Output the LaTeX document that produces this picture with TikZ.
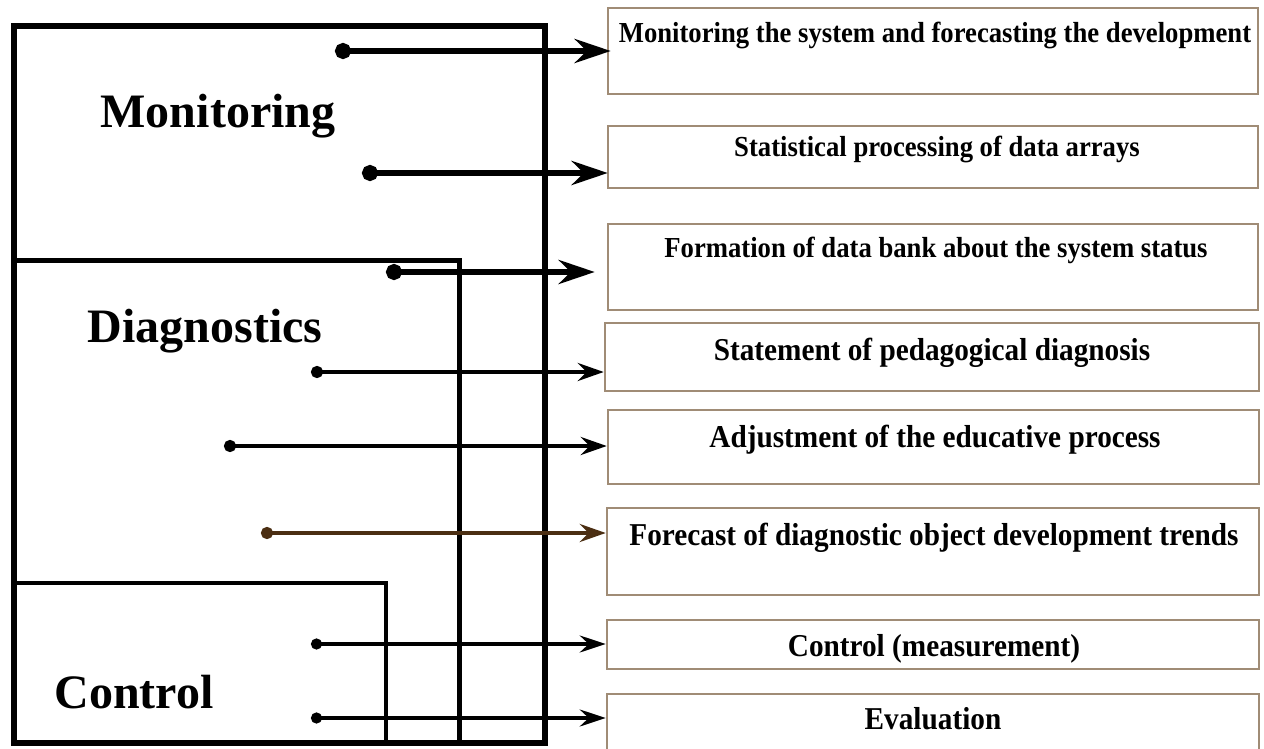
\documentclass[tikz,border=0pt]{standalone}
\usepackage{fontspec}
\setmainfont{Liberation Serif}
\newfontfamily\condfont[FakeStretch=0.92]{Liberation Serif}
\usetikzlibrary{arrows.meta}
\definecolor{boxline}{RGB}{160,140,118}
\definecolor{brownarrow}{RGB}{75,46,18}
\tikzset{
  frame/.style={line width=6pt, line join=miter},
  inner1/.style={line width=5pt},
  inner2/.style={line width=4pt},
  bigtitle/.style={font=\fontsize{48}{56}\selectfont\bfseries, inner sep=0pt, anchor=base},
  itembox/.style={draw=boxline, line width=2.5pt, inner sep=0pt, rectangle},
  itemtext/.style={font=\condfont\fontsize{29}{34}\selectfont\bfseries, inner sep=0pt, anchor=base},
  itemtextL/.style={font=\condfont\fontsize{31.8}{36}\selectfont\bfseries, inner sep=0pt, anchor=base},
  arrA/.style={line width=6pt, {Circle[length=16pt]}-{Stealth[length=36pt,width=24pt,inset=12pt]}},
  arrB/.style={line width=4.5pt, {Circle[length=12pt]}-{Stealth[length=26pt,width=18pt,inset=9pt]}},
  arrC/.style={line width=3.5pt, {Circle[length=11pt]}-{Stealth[length=26pt,width=17pt,inset=9pt]}},
}
\begin{document}
\begin{tikzpicture}[x=1pt,y=-1pt]
\useasboundingbox (0,0) rectangle (1264,749);
\clip (0,0) rectangle (1264,749);
% left structure
\draw[frame] (14,26) rectangle (545,743);
\draw[inner1] (14,260) -- (459,260) -- (459,743);
\draw[inner2] (14,583) -- (386,583) -- (386,743);
\node[bigtitle] (tmon) at (218,128) {Monitoring};
\node[bigtitle] (tdia) at (205,342) {Diagnostics};
\node[bigtitle] (tcon) at (134,708) {Control};
% right boxes
\node[itembox, minimum width=650pt, minimum height=86pt] (b1) at (933,51) {};
\node[itembox, minimum width=650pt, minimum height=62pt] (b2) at (933,157) {};
\node[itembox, minimum width=650pt, minimum height=86pt] (b3) at (933,267) {};
\node[itembox, minimum width=654pt, minimum height=68pt] (b4) at (932,357) {};
\node[itembox, minimum width=651pt, minimum height=74pt] (b5) at (933.5,447) {};
\node[itembox, minimum width=652pt, minimum height=87pt] (b6) at (933,551.5) {};
\node[itembox, minimum width=652pt, minimum height=49pt] (b7) at (933,644.5) {};
\node[itembox, minimum width=652pt, minimum height=66pt] (b8) at (933,727) {};
\node[itemtext] (t1) at (935,43) {Monitoring the system and forecasting the development};
\node[itemtext] (t2) at (937,157) {Statistical processing of data arrays};
\node[itemtext] (t3) at (936,257) {Formation of data bank about the system status};
\node[itemtextL] (t4) at (932,360) {Statement of pedagogical diagnosis};
\node[itemtextL] (t5) at (935,447) {Adjustment of the educative process};
\node[itemtextL] (t6) at (934,545) {Forecast of diagnostic object development trends};
\node[itemtextL] (t7) at (934,656) {Control (measurement)};
\node[itemtextL] (t8) at (933,729) {Evaluation};
% arrow start points
\coordinate (s1) at (335,51);
\coordinate (s2) at (362,173);
\coordinate (s3) at (386,272);
\coordinate (s4) at (311,372);
\coordinate (s5) at (224,446);
\coordinate (s6) at (261,533);
\coordinate (s7) at (311,644);
\coordinate (s8) at (311,718);
\draw[arrA] (s1) -- ([xshift=4pt]s1 -| b1.west);
\draw[arrA] (s2) -- ([xshift=1pt]s2 -| b2.west);
\draw[arrA] (s3) -- ([xshift=-12pt]s3 -| b3.west);
\draw[arrB] (s4) -- (s4 -| b4.west);
\draw[arrB] (s5) -- (s5 -| b5.west);
\draw[arrB, draw=brownarrow, fill=brownarrow] (s6) -- (s6 -| b6.west);
\draw[arrC] (s7) -- (s7 -| b7.west);
\draw[arrC] (s8) -- (s8 -| b8.west);
\end{tikzpicture}
\end{document}
